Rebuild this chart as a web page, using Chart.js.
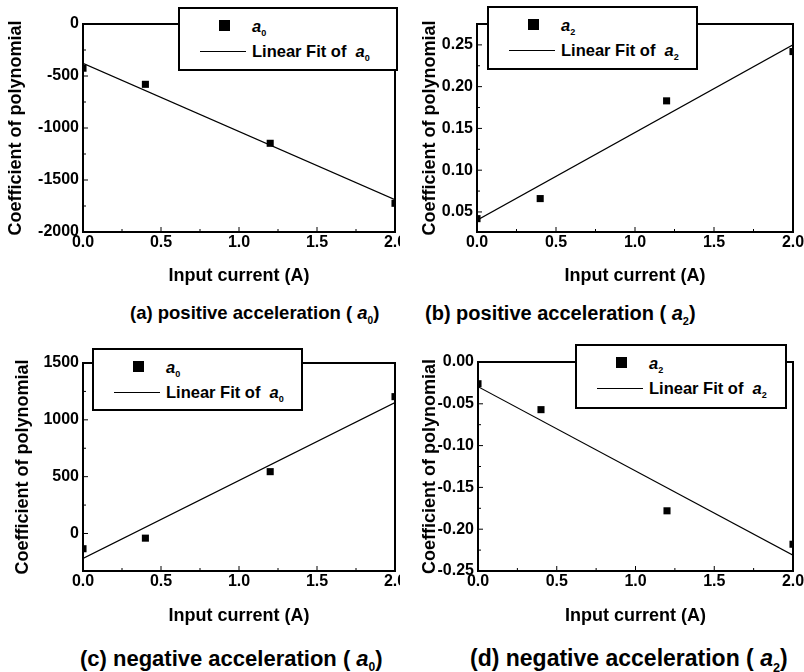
<!DOCTYPE html>
<html>
<head>
<meta charset="utf-8">
<script src="https://cdn.jsdelivr.net/npm/chart.js@4.4.1/dist/chart.umd.min.js"></script>
<style>
  body { margin: 0; background: #fff; }
  #page { position: relative; width: 804px; height: 672px; overflow: hidden;
          font-family: "Liberation Sans", Arial, sans-serif; font-weight: bold; color: #000; }
  .panel { position: absolute; }
  .panel canvas { display: block; }
  .legend { position: absolute; box-sizing: border-box; border: 2px solid #000; background: #fff; font-size: 16.5px; }
  .legend .row { position: absolute; left: 0; right: 0; height: 24px; line-height: 24px; }
  .legend .sq { position: absolute; width: 11px; height: 11px; background: #000; top: 6px; left: 39px; }
  .legend .ln { position: absolute; height: 0; border-top: 1.2px solid #000; top: 12px; left: 20px; width: 46px; }
  .legend .lb { position: absolute; left: 72px; white-space: nowrap; }
  sub { font-size: 0.55em; vertical-align: -0.45em; line-height: 0; }
  .cap { position: absolute; white-space: nowrap; line-height: 1.2; }
</style>
</head>
<body>
<div id="page"></div>
<script>
// values
const currents = [0, 0.4, 1.2, 2.0];
const fitCurrents = [0, 2.0];

const posA0 = [-425, -580, -1147, -1724];
const posA0Fit = [-378, -1690];
const posA2 = [0.042, 0.066, 0.183, 0.242];
const posA2Fit = [0.040, 0.250];
const negA0 = [-134, -41, 544, 1204];
const negA0Fit = [-219, 1152];
const negA2 = [-0.026, -0.057, -0.178, -0.218];
const negA2Fit = [-0.0295, -0.231];

const xTicks = [0, 0.5, 1.0, 1.5, 2.0];
const posA0Ticks = [-2000, -1500, -1000, -500, 0];
const posA2Ticks = [0.05, 0.10, 0.15, 0.20, 0.25];
const negA0Ticks = [0, 500, 1000, 1500];
const negA2Ticks = [-0.25, -0.20, -0.15, -0.10, -0.05, 0.00];

const captions = ['(a) positive acceleration ( a0)', '(b) positive acceleration ( a2)',
                  '(c) negative acceleration ( a0)', '(d) negative acceleration ( a2)'];

Chart.defaults.font.family = '"Liberation Sans", Arial, sans-serif';
Chart.defaults.font.weight = 'bold';
Chart.defaults.color = '#000';

function subs(text) {
  return text.replace(/  /g, ' &nbsp;').replace(/a(\d)/g, '<i>a</i><sub>$1</sub>');
}

function points(xs, ys) {
  return xs.map(function (x, i) { return { x: x, y: ys[i] }; });
}

// box round the plot plus inward tick marks
var framePlugin = {
  id: 'frame',
  afterDatasetsDraw: function (chart) {
    var ctx = chart.ctx, a = chart.chartArea, x = chart.scales.x, y = chart.scales.y;
    ctx.save();
    ctx.strokeStyle = '#000';
    ctx.lineWidth = 1;
    ctx.beginPath();
    x.ticks.forEach(function (t, i) {
      var px = x.getPixelForValue(t.value);
      ctx.moveTo(px, a.bottom); ctx.lineTo(px, a.bottom - 5);
      if (i > 0) {
        var mx = x.getPixelForValue((t.value + x.ticks[i - 1].value) / 2);
        ctx.moveTo(mx, a.bottom); ctx.lineTo(mx, a.bottom - 3);
      }
    });
    y.ticks.forEach(function (t, i) {
      var py = y.getPixelForValue(t.value);
      ctx.moveTo(a.left, py); ctx.lineTo(a.left + 5, py);
      if (i > 0) {
        var my = y.getPixelForValue((t.value + y.ticks[i - 1].value) / 2);
        ctx.moveTo(a.left, my); ctx.lineTo(a.left + 3, my);
      }
    });
    ctx.stroke();
    ctx.lineWidth = 2;
    ctx.strokeRect(a.left, a.top, a.right - a.left, a.bottom - a.top);
    ctx.restore();
  }
};

// boxed legend laid over the top of the plot
var paperLegend = {
  id: 'paperLegend',
  afterLayout: function (chart, args, opts) {
    var box = chart.$legendBox;
    if (!box) {
      box = document.createElement('div');
      box.className = 'legend';
      chart.canvas.parentNode.appendChild(box);
      chart.$legendBox = box;
    }
    var a = chart.chartArea;
    box.style.left = (a.left + opts.dx) + 'px';
    box.style.top = (a.top + opts.dy) + 'px';
    box.style.width = opts.w + 'px';
    box.style.height = opts.h + 'px';
    box.innerHTML = chart.data.datasets.map(function (ds, i) {
      var mark = ds.showLine ? '<span class="ln"></span>' : '<span class="sq"></span>';
      return '<div class="row" style="top:' + (5 + i * 25) + 'px">' + mark +
             '<span class="lb">' + subs(ds.label) + '</span></div>';
    }).join('');
  }
};

function makePanel(p) {
  var page = document.getElementById('page');
  var div = document.createElement('div');
  div.className = 'panel';
  div.style.left = p.left + 'px';
  div.style.top = p.top + 'px';
  div.style.width = p.w + 'px';
  div.style.height = p.h + 'px';
  var canvas = document.createElement('canvas');
  canvas.width = p.w;
  canvas.height = p.h;
  div.appendChild(canvas);
  page.appendChild(div);

  var tickFont = { size: 16, weight: 'bold' };
  var titleFont = { size: 18, weight: 'bold' };

  new Chart(canvas, {
    type: 'scatter',
    data: {
      datasets: [{
        label: p.name,
        data: points(currents, p.values),
        pointStyle: 'rect',
        pointRadius: 5,
        backgroundColor: '#000',
        borderColor: '#000',
        borderWidth: 0,
        clip: 0
      }, {
        label: 'Linear Fit of  ' + p.name,
        data: points(fitCurrents, p.fit),
        showLine: true,
        pointRadius: 0,
        borderColor: '#000',
        borderWidth: 1.2,
        clip: 0
      }]
    },
    options: {
      responsive: false,
      animation: false,
      events: [],
      layout: { padding: { left: 0, top: p.plot.t - p.top, right: p.left + p.w - p.plot.r, bottom: 0 } },
      plugins: {
        legend: { display: false },
        tooltip: { enabled: false },
        paperLegend: p.legend
      },
      scales: {
        x: {
          type: 'linear', min: 0, max: 2,
          afterBuildTicks: function (s) { s.ticks = xTicks.map(function (v) { return { value: v }; }); },
          ticks: { font: tickFont, padding: 1, maxRotation: 0, autoSkip: false,
                   callback: function (v) { return v.toFixed(1); } },
          grid: { display: false, drawTicks: false },
          border: { display: false },
          title: { display: true, text: 'Input current (A)', font: titleFont, padding: { top: 0, bottom: 3 } },
          afterFit: function (s) {
            s.height = p.top + p.h - p.plot.b;
            s.paddingLeft = 0; s.paddingRight = 0;
          }
        },
        y: {
          type: 'linear', min: p.yMin, max: p.yMax,
          afterBuildTicks: function (s) { s.ticks = p.yTicks.map(function (v) { return { value: v }; }); },
          ticks: { font: tickFont, padding: 4, autoSkip: false,
                   callback: function (v) { return v.toFixed(p.dec); } },
          grid: { display: false, drawTicks: false },
          border: { display: false },
          title: { display: true, text: 'Coefficient of polynomial', font: titleFont, padding: { top: p.titlePad, bottom: 0 } },
          afterFit: function (s) {
            s.width = p.plot.l - p.left;
            s.paddingTop = 0; s.paddingBottom = 0;
          }
        }
      }
    },
    plugins: [framePlugin, paperLegend]
  });
}

makePanel({ left: 0, top: 0, w: 400, h: 290, plot: { l: 83, t: 24, r: 399, b: 232 },
  name: 'a0', values: posA0, fit: posA0Fit, yMin: -2000, yMax: 0, yTicks: posA0Ticks, dec: 0,
  titlePad: 5, legend: { dx: 95, dy: -17, w: 220, h: 64 } });
makePanel({ left: 400, top: 0, w: 404, h: 290, plot: { l: 477, t: 24, r: 793, b: 232 },
  name: 'a2', values: posA2, fit: posA2Fit, yMin: 0.026, yMax: 0.275, yTicks: posA2Ticks, dec: 2,
  titlePad: 19, legend: { dx: 10, dy: -18, w: 211, h: 64 } });
makePanel({ left: 0, top: 330, w: 400, h: 300, plot: { l: 83, t: 363, r: 399, b: 571 },
  name: 'a0', values: negA0, fit: negA0Fit, yMin: -330, yMax: 1500, yTicks: negA0Ticks, dec: 0,
  titlePad: 12, legend: { dx: 9, dy: -15, w: 211, h: 63 } });
makePanel({ left: 400, top: 330, w: 404, h: 300, plot: { l: 478, t: 362, r: 793, b: 571 },
  name: 'a2', values: negA2, fit: negA2Fit, yMin: -0.25, yMax: 0, yTicks: negA2Ticks, dec: 2,
  titlePad: 19, legend: { dx: 97, dy: -18, w: 212, h: 65 } });

// panel captions under each plot
var capPlaces = [
  { left: 130, cy: 313, size: 18.5 },
  { left: 425, cy: 313, size: 20 },
  { left: 80, cy: 659, size: 22 },
  { left: 470, cy: 659, size: 23 }
];
captions.forEach(function (text, i) {
  var c = document.createElement('div');
  var pl = capPlaces[i];
  c.className = 'cap';
  c.style.left = pl.left + 'px';
  c.style.top = (pl.cy - pl.size * 0.6) + 'px';
  c.style.fontSize = pl.size + 'px';
  c.innerHTML = subs(text);
  document.getElementById('page').appendChild(c);
});
</script>
</body>
</html>
